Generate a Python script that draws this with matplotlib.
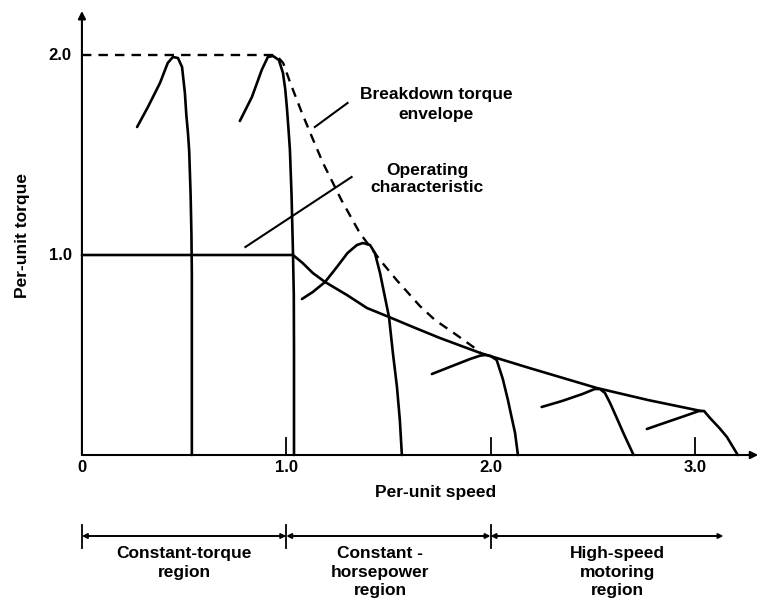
import matplotlib
matplotlib.use("Agg")
import matplotlib.pyplot as plt

plt.rcParams['font.family'] = ['Liberation Sans', 'DejaVu Sans']

# ---- data (per-unit speed, per-unit torque) ----
x_ticks = [1.0, 2.0, 3.0]
x_tick_labels = ["0", "1.0", "2.0", "3.0"]
y_ticks = [1.0, 2.0]
y_tick_labels = ["1.0", "2.0"]

# breakdown torque envelope (dashed)
env_x = [0.0, 0.95, 0.985, 1.02, 1.077, 1.13, 1.18, 1.27, 1.36, 1.459, 1.54, 1.654, 1.728, 1.82, 1.95]
env_y = [2.0, 2.0, 1.96, 1.86, 1.71, 1.58, 1.46, 1.275, 1.11, 0.975, 0.875, 0.745, 0.675, 0.61, 0.515]

# operating characteristic
op_x = [0.0, 1.033, 1.08, 1.13, 1.19, 1.297, 1.395, 1.503, 1.62, 1.752, 1.95, 2.19, 2.52, 2.77, 3.03]
op_y = [1.0, 1.0, 0.96, 0.91, 0.865, 0.80, 0.735, 0.69, 0.64, 0.585, 0.51, 0.435, 0.335, 0.275, 0.22]

# torque-speed curves at different supply frequencies
c1_x = [0.27, 0.323, 0.382, 0.42, 0.445, 0.47, 0.49, 0.504, 0.511, 0.519, 0.525, 0.532, 0.536, 0.538, 0.538, 0.538]
c1_y = [1.64, 1.74, 1.86, 1.96, 1.99, 1.985, 1.94, 1.81, 1.70, 1.61, 1.52, 1.30, 1.10, 0.90, 0.5, 0.0]

c2_x = [0.773, 0.832, 0.88, 0.91, 0.935, 0.964, 0.984, 0.995, 1.003, 1.011, 1.018, 1.026, 1.033, 1.037, 1.038, 1.038]
c2_y = [1.67, 1.79, 1.925, 1.99, 1.995, 1.975, 1.91, 1.83, 1.74, 1.63, 1.525, 1.30, 1.01, 0.80, 0.525, 0.0]

c3_x = [1.077, 1.13, 1.19, 1.248, 1.30, 1.346, 1.375, 1.41, 1.434, 1.459, 1.483, 1.503, 1.522, 1.542, 1.556, 1.566]
c3_y = [0.78, 0.815, 0.865, 0.94, 1.01, 1.05, 1.06, 1.05, 1.01, 0.91, 0.79, 0.69, 0.51, 0.34, 0.175, 0.0]

c4_x = [1.713, 1.80, 1.90, 1.95, 1.975, 2.00, 2.03, 2.06, 2.085, 2.105, 2.12, 2.134]
c4_y = [0.405, 0.44, 0.48, 0.497, 0.50, 0.495, 0.475, 0.38, 0.275, 0.18, 0.11, 0.0]

c5_x = [2.25, 2.35, 2.45, 2.51, 2.535, 2.56, 2.585, 2.62, 2.65, 2.70]
c5_y = [0.24, 0.27, 0.305, 0.33, 0.33, 0.31, 0.26, 0.18, 0.11, 0.0]

c6_x = [2.765, 2.85, 2.95, 3.02, 3.045, 3.074, 3.12, 3.157, 3.21]
c6_y = [0.13, 0.16, 0.195, 0.22, 0.22, 0.185, 0.135, 0.09, 0.0]

curves = [(c1_x, c1_y), (c2_x, c2_y), (c3_x, c3_y), (c4_x, c4_y), (c5_x, c5_y), (c6_x, c6_y)]

region_edges = [0.0, 1.0, 2.0, 3.14]
region_labels = ["Constant-torque\nregion", "Constant -\nhorsepower\nregion", "High-speed\nmotoring\nregion"]
region_centers = [0.50, 1.46, 2.62]

# ---- figure ----
fig = plt.figure(figsize=(7.68, 6.05), dpi=100)
ax = fig.add_axes([0, 0, 1, 1])
ax.set_xlim(-0.401, 3.358)
ax.set_ylim(-0.75, 2.275)
ax.axis('off')

k = 'black'
fs = 12.5
tkw = dict(fontsize=fs, fontweight='bold')

# axes with arrows
ax.annotate('', xy=(0, 2.22), xytext=(0, 0),
            arrowprops=dict(arrowstyle='-|>', color=k, lw=1.5, mutation_scale=11, shrinkA=0, shrinkB=0))
ax.annotate('', xy=(3.31, 0), xytext=(0, 0),
            arrowprops=dict(arrowstyle='-|>', color=k, lw=1.5, mutation_scale=11, shrinkA=0, shrinkB=0))
for xt in x_ticks:
    ax.plot([xt, xt], [0, 0.085], color=k, lw=1.3)

# tick labels
for xt, lab in zip([0.0] + x_ticks, x_tick_labels):
    ax.text(xt, -0.06, lab, ha='center', va='center', fontsize=12, fontweight='bold')
for yt, lab in zip(y_ticks, y_tick_labels):
    ax.text(-0.05, yt, lab, ha='right', va='center', fontsize=12, fontweight='bold')

# envelope and characteristics
ax.plot(env_x, env_y, color=k, lw=1.7, ls=(0, (4.0, 3.0)))
ax.plot(op_x, op_y, color=k, lw=1.9, solid_capstyle='round', solid_joinstyle='round')
for cx, cy in curves:
    ax.plot(cx, cy, color=k, lw=1.9, solid_capstyle='round', solid_joinstyle='round')

# annotations
ax.text(1.733, 1.7525, "Breakdown torque\nenvelope", ha='center', va='center',
        linespacing=1.4, **tkw)
ax.plot([1.14, 1.30], [1.64, 1.76], color=k, lw=1.5)
ax.text(1.69, 1.38, "Operating\ncharacteristic", ha='center', va='center',
        linespacing=1.25, **tkw)
ax.plot([0.80, 1.32], [1.04, 1.39], color=k, lw=1.5)

ax.text(-0.29, 1.10, "Per-unit torque", rotation=90, ha='center', va='center', **tkw)
ax.text(1.733, -0.19, "Per-unit speed", ha='center', va='center', **tkw)

# region bar
yb = -0.405
for i in range(3):
    ax.annotate('', xy=(region_edges[i + 1], yb), xytext=(region_edges[i], yb),
                arrowprops=dict(arrowstyle='<|-|>', color=k, lw=1.4, mutation_scale=7,
                                shrinkA=0, shrinkB=0))
for xe in region_edges[:3]:
    ax.plot([xe, xe], [yb + 0.055, yb - 0.06], color=k, lw=1.3)
for xc, lab in zip(region_centers, region_labels):
    ax.text(xc, yb - 0.05, lab, ha='center', va='top', linespacing=1.3, **tkw)

fig.savefig('out.png', dpi=100)
